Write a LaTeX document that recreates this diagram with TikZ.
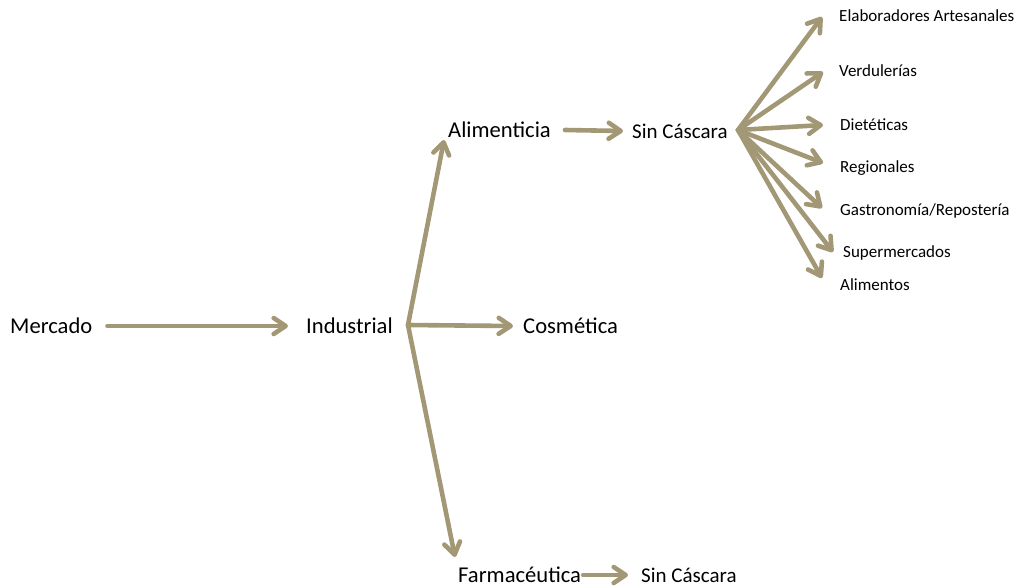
\documentclass[tikz,border=0pt]{standalone}
\usepackage{fontspec}
\setmainfont{Carlito}
\usetikzlibrary{arrows.meta}

\definecolor{flechacolor}{RGB}{163,152,118}

\tikzset{
    etiqueta/.style={anchor=west, inner sep=0pt, text=black},
    grande/.style={etiqueta, font=\fontsize{22.6}{26}\selectfont},
    mediana/.style={etiqueta, font=\fontsize{21}{24}\selectfont},
    chica/.style={etiqueta, font=\fontsize{17}{20}\selectfont},
    flecha/.style={draw=flechacolor, line width=4.6pt, line cap=round,
        -{Straight Barb[length=12pt,width=16pt,round]}},
}

\begin{document}
\begin{tikzpicture}[x=1pt,y=-1pt]
\useasboundingbox (0,0) rectangle (1021,587);

% nodos principales
\node[grande] (mercado) at (10,326) {Mercado};
\node[grande] (industrial) at (306,326) {Industrial};
\node[grande] (alimenticia) at (448,130) {Alimenticia};
\node[mediana] (sincascara) at (632,131) {Sin Cáscara};
\node[grande] (cosmetica) at (523,326) {Cosmética};
\node[grande] (farmaceutica) at (458,575) {Farmacéutica};
\node[mediana] (sincascarab) at (641,575) {Sin Cáscara};

% destinos
\node[chica] (elaboradores) at (839,16) {Elaboradores Artesanales};
\node[chica] (verdulerias) at (839,71) {Verdulerías};
\node[chica] (dieteticas) at (840,125) {Dietéticas};
\node[chica] (regionales) at (840,168) {Regionales};
\node[chica] (gastronomia) at (840,211) {Gastronomía/Repostería};
\node[chica] (supermercados) at (843,253) {Supermercados};
\node[chica] (alimentos) at (840,285) {Alimentos};

% puntos de salida de los abanicos
\coordinate (hubind) at (408,325);
\coordinate (hubsin) at (738,130);

% flechas
\draw[flecha] ([xshift=15pt]mercado.east) -- ([xshift=-18pt]industrial.west);
\draw[flecha] (hubind) -- ([xshift=-4pt,yshift=-10pt]alimenticia.west);
\draw[flecha] (hubind) -- ([xshift=-10pt]cosmetica.west);
\draw[flecha] (hubind) -- ([xshift=-3pt,yshift=18pt]farmaceutica.west);
\draw[flecha] ([xshift=14pt]alimenticia.east) -- ([xshift=-9pt]sincascara.west);
\draw[flecha] ([xshift=2pt]farmaceutica.east) -- ([xshift=-13pt]sincascarab.west);

\draw[flecha] (hubsin) -- ([xshift=-17pt,yshift=-1pt]elaboradores.west);
\draw[flecha] (hubsin) -- ([xshift=-16pt,yshift=-1pt]verdulerias.west);
\draw[flecha] (hubsin) -- ([xshift=-17pt]dieteticas.west);
\draw[flecha] (hubsin) -- ([xshift=-17pt,yshift=5pt]regionales.west);
\draw[flecha] (hubsin) -- ([xshift=-18pt,yshift=3pt]gastronomia.west);
\draw[flecha] (hubsin) -- ([xshift=-10pt,yshift=1pt]supermercados.west);
\draw[flecha] (hubsin) -- ([xshift=-18pt,yshift=7pt]alimentos.west);

\end{tikzpicture}
\end{document}
